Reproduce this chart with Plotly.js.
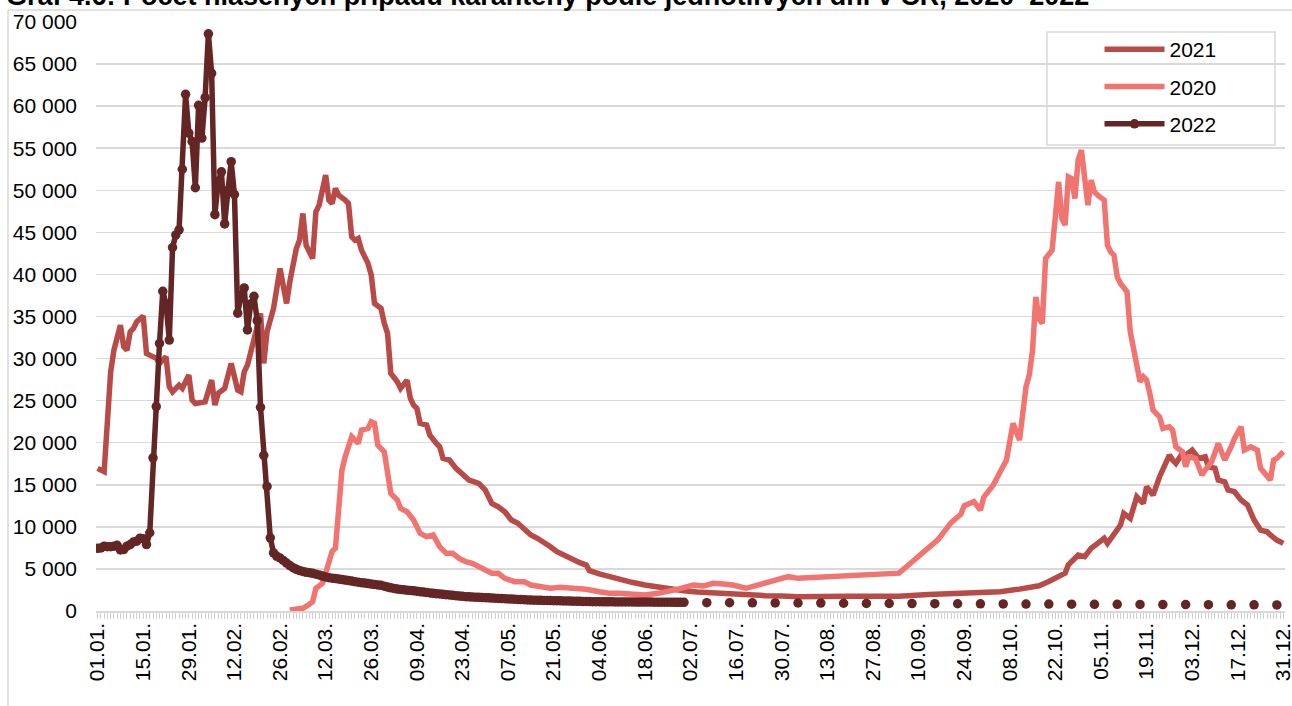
<!DOCTYPE html>
<html>
<head>
<meta charset="utf-8">
<script src="https://cdn.plot.ly/plotly-3.0.1.min.js"></script>
<style>
  html, body { margin: 0; padding: 0; background: #fff; overflow: hidden; }
  #chart { width: 1292px; height: 706px; }
</style>
</head>
<body>
<div id="chart"></div>
<script>
// ---- tick labels (category positions: day index 0 = 01.01.) ----
const tickDays = [0,14,28,42,56,70,84,98,112,126,140,154,168,182,196,210,224,238,252,266,280,294,308,322,336,350,364];
const tickLabels = ["01.01.","15.01.","29.01.","12.02.","26.02.","12.03.","26.03.","09.04.","23.04.","07.05.","21.05.","04.06.","18.06.","02.07.","16.07.","30.07.","13.08.","27.08.","10.09.","24.09.","08.10.","22.10.","05.11.","19.11.","03.12.","17.12.","31.12."];

// ---- 2021 ----
const day2021 = [0,1,2,4,5,7,8,9,10,11,12,14,15,16,18,19,21,22,23,25,26,28,29,30,33,35,36,37,39,41,43,44,45,46,48,50,51,52,54,56,58,59,61,62,63,64,66,67,68,69,70,71,72,73,74,76,77,78,79,80,81,83,84,85,87,88,89,90,92,93,95,96,97,98,99,101,102,104,105,106,108,110,112,114,117,119,121,123,125,127,129,131,133,135,137,139,141,143,145,148,150,151,154,157,160,164,168,172,176,180,184,190,195,200,205,210,215,230,246,255,265,277,283,289,292,295,297,298,300,301,303,305,307,309,310,312,314,315,317,319,321,322,324,326,327,329,330,331,333,334,336,338,340,341,343,344,346,347,349,351,353,355,357,359,360,362,364];
const val2021 = [16950,16700,16550,28430,31000,33980,31400,31000,33180,33590,34370,35050,30610,30410,30020,29430,30210,26650,26050,26850,26460,28040,25070,24670,24870,27440,24470,25860,26460,29430,26250,26050,28430,29230,32200,35370,29430,33180,35960,40710,36550,39120,43090,44080,47250,43480,41900,47440,48230,50410,51800,48830,48430,50220,49420,48830,48430,44470,44080,44280,42890,41310,39920,36550,35960,34180,32990,28240,27240,26460,27440,25270,24470,24080,22300,22100,20900,19920,19520,18140,17940,16950,16160,15560,15170,14380,12790,12390,11800,10810,10420,9820,9030,8640,8040,7640,7050,6650,6260,5740,5460,4790,4400,4080,3770,3410,3090,2820,2580,2410,2260,2100,1980,1900,1820,1780,1700,1750,1750,1950,2150,2300,2600,3000,3500,4200,4500,5500,6200,6650,6450,7450,8040,8640,8040,9230,10220,11610,11010,13580,12790,14770,13780,15960,16950,18530,17940,17550,18730,18530,19130,18140,18330,17150,16950,15560,15360,14380,14180,13190,12590,10810,9620,9420,9030,8430,8040];

// ---- 2020 ----
const day2020 = [59,61,63,65,66,67,69,70,71,72,73,74,75,76,78,80,81,83,84,85,86,88,89,90,92,93,95,97,99,101,103,105,107,109,111,113,115,117,119,121,123,125,128,131,133,136,139,142,146,150,154,157,160,164,168,172,175,178,181,183,186,189,192,195,199,203,206,209,212,215,222,228,234,240,246,249,252,255,258,260,262,265,266,269,271,272,274,275,277,279,281,283,285,286,287,288,289,290,291,293,294,295,296,297,298,299,300,301,302,303,304,305,306,307,309,310,311,312,313,314,316,317,318,320,321,322,323,324,326,327,329,330,331,333,334,335,337,339,340,342,344,346,348,349,351,352,354,356,357,359,360,361,362,364];
const val2020 = [120,200,320,800,1100,2700,3290,4500,6060,7100,7450,13190,16750,18330,20710,19920,21500,21700,22490,22300,19720,18920,16360,13980,13190,12200,11800,10810,9230,8830,9030,7640,6850,6850,6260,5860,5670,5260,4870,4480,4480,3880,3480,3480,3090,2820,2700,2820,2700,2580,2290,2100,2100,1980,1900,2100,2290,2580,2890,3090,2970,3290,3210,3090,2700,3090,3480,3680,4080,3880,4000,4100,4200,4300,4500,5500,6500,7500,8500,9500,10500,11500,12500,13000,12000,13500,14500,15000,16500,17940,22300,20310,26650,28040,31000,37340,34770,34180,41900,42890,46840,51000,46640,45860,51600,51400,49030,53580,54770,51200,48230,51200,49810,49420,48830,43480,42690,42290,39710,38930,37930,33180,31000,27240,27840,27440,25860,23880,23080,21700,21900,21500,19520,18920,17150,18330,18140,16160,16750,17740,19920,17940,19520,20510,21900,19130,19520,19130,16950,16160,15560,17940,18140,18920];

// ---- 2022 (daily 01.01.–30.06., then weekly) ----
const val2022 = [7450,7500,7700,7650,7650,7700,7800,7250,7300,7700,7900,8200,8300,8650,8600,7900,
  9300,18200,24300,31800,38000,36500,32200,43200,44700,45300,52500,61400,56800,55800,50300,60100,56200,61000,68600,63900,47100,51000,52200,46000,50000,53400,49500,35400,37500,38400,33400,36500,37400,34500,24200,18500,14800,8700,
  6900,6500,6300,6000,5700,5400,5150,4950,4800,4700,4600,4550,4480,4380,4280,4150,4050,3960,3900,3850,3800,3730,3680,3620,3560,3480,3420,3360,3320,3260,3200,3150,3100,3050,2950,2850,2750,2680,2600,2560,2520,2480,2440,2400,2350,2300,2250,2200,2150,2100,2060,2020,1980,1940,1900,1860,1820,1780,1740,1700,1680,1660,1640,1620,1600,1580,1560,1540,1520,1500,1480,1460,1440,1420,1400,1380,1360,1340,1320,1300,1290,1280,1270,1260,1250,1240,1230,1220,1210,1200,1190,1180,1170,1160,1150,1140,1130,1120,1110,1105,1100,1095,1090,1090,1085,1080,1080,1075,1075,1070,1070,1065,1065,1060,1060,1055,1055,1050,1050,1045,1045,1040,1040,1035,1035,1030,1030];
const day2022 = val2022.map((v, i) => i);
const day2022w = [187,194,201,208,215,222,229,236,243,250,257,264,271,278,285,292,299,306,313,320,327,334,341,348,355,362];
const val2022w = [990,980,970,960,950,940,920,900,890,880,870,860,850,840,830,820,810,800,790,780,770,760,750,740,730,720];

const C2021 = '#B84B47', C2020 = '#F17470', C2022 = '#632624';
const FONT = '"Liberation Sans", Arial, sans-serif';

const traces = [
  { name: '2021', x: day2021, y: val2021, type: 'scatter', mode: 'lines',
    line: { color: C2021, width: 5.5 }, legendgroup: 'a' },
  { name: '2020', x: day2020, y: val2020, type: 'scatter', mode: 'lines',
    line: { color: C2020, width: 5.5 }, legendgroup: 'b' },
  { name: '2022', x: day2022, y: val2022, type: 'scatter', mode: 'lines+markers',
    line: { color: C2022, width: 5.5 }, marker: { color: C2022, size: 9.5 }, legendgroup: 'c' },
  { name: '2022', x: day2022w, y: val2022w, type: 'scatter', mode: 'markers',
    marker: { color: C2022, size: 9.5 }, legendgroup: 'c', showlegend: false }
];

const layout = {
  width: 1292, height: 706,
  margin: { l: 96, r: 7, t: 22, b: 95 },
  paper_bgcolor: '#fff', plot_bgcolor: '#fff',
  separators: ', ',
  font: { family: FONT, size: 21, color: '#000' },
  showlegend: true,
  legend: {
    x: 0.844, y: 0.988, xanchor: 'left', yanchor: 'top',
    bgcolor: 'rgba(0,0,0,0)', borderwidth: 0,
    font: { family: FONT, size: 21, color: '#000' },
    traceorder: 'grouped', tracegroupgap: 7, itemwidth: 60
  },
  xaxis: {
    type: 'linear', range: [-0.5, 364.5],
    tickmode: 'array', tickvals: tickDays, ticktext: tickLabels,
    tickangle: -90, tickfont: { family: FONT, size: 21, color: '#000' },
    ticklabeloverflow: 'allow', ticklabelstandoff: -4,
    showgrid: false, zeroline: false,
    showline: true, linecolor: '#d9d9d9', linewidth: 1.5,
    ticks: 'outside', ticklen: 6, tickcolor: '#d0d0d0', tickwidth: 1,
    minor: { tickmode: 'linear', tick0: 0, dtick: 1, ticks: 'outside', ticklen: 6, tickcolor: '#d0d0d0', tickwidth: 1, showgrid: false },
    fixedrange: true
  },
  yaxis: {
    range: [0, 70000], tickmode: 'linear', tick0: 0, dtick: 5000,
    tickformat: ',d', tickfont: { family: FONT, size: 21, color: '#000' },
    showgrid: true, gridcolor: '#d9d9d9', gridwidth: 1.5,
    zeroline: false, showline: false, ticks: '', ticklabelstandoff: 18,
    fixedrange: true
  },
  shapes: [
    // outer chart frame (top and left edges visible)
    { type: 'line', xref: 'paper', yref: 'paper', x0: -0.074, x1: 1.2, y0: (611 - 10) / 589, y1: (611 - 10) / 589,
      line: { color: '#d9d9d9', width: 1.5 } },
    { type: 'line', xref: 'paper', yref: 'paper', x0: -0.074, x1: -0.074, y0: -0.3, y1: (611 - 10) / 589,
      line: { color: '#d9d9d9', width: 1.5 } },
    // legend box
    { type: 'rect', xref: 'paper', yref: 'paper', x0: (1047 - 96) / 1189, x1: (1275 - 96) / 1189,
      y0: (611 - 145) / 589, y1: (611 - 32) / 589, line: { color: '#d9d9d9', width: 1.5 }, fillcolor: 'rgba(0,0,0,0)' }
  ],
  annotations: [
    { text: '<b>Graf 4.6: Počet hlášených případů karantény podle jednotlivých dní v ČR, 2020–2022</b>',
      xref: 'paper', yref: 'paper', x: (4 - 96) / 1189, y: (611 - 13) / 589,
      xanchor: 'left', yanchor: 'bottom', showarrow: false,
      font: { family: FONT, size: 27, color: '#000' } }
  ]
};

Plotly.newPlot('chart', traces, layout, { displayModeBar: false, staticPlot: true });
</script>
</body>
</html>
